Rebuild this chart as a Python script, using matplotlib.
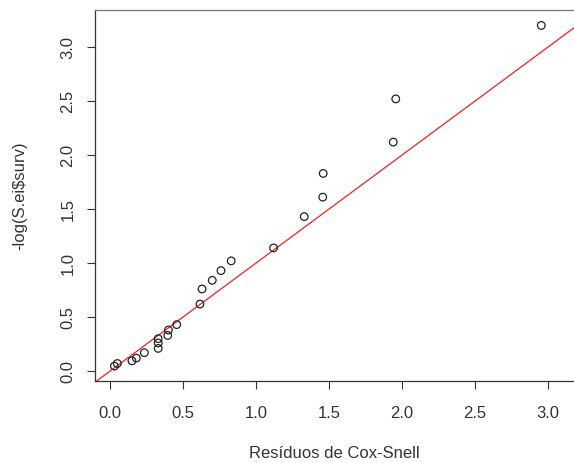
import matplotlib
matplotlib.use('Agg')
import matplotlib.pyplot as plt

plt.rcParams['font.family'] = ['Liberation Sans', 'DejaVu Sans']

# Cox-Snell residuals vs -log(S(t))
cox_snell = [0.03, 0.05, 0.15, 0.18, 0.235, 0.33, 0.33, 0.33, 0.395, 0.40, 0.457,
             0.616, 0.63, 0.70, 0.76, 0.83, 1.12, 1.33, 1.457, 1.46, 1.94, 1.957, 2.954]
neg_log_s = [0.046, 0.07, 0.095, 0.12, 0.17, 0.21, 0.26, 0.30, 0.33, 0.38, 0.43,
             0.62, 0.76, 0.84, 0.93, 1.02, 1.14, 1.43, 1.61, 1.83, 2.12, 2.52, 3.20]
ticks = [0.0, 0.5, 1.0, 1.5, 2.0, 2.5, 3.0]

fig = plt.figure(figsize=(5.74, 4.63), dpi=100)
ax = fig.add_axes([95 / 574, 1 - 381 / 463, 1 - 95 / 574, 371 / 463])

ax.scatter(cox_snell, neg_log_s, s=30, facecolors='none', edgecolors='#222222', linewidths=0.9, zorder=3)
ax.axline((0, 0), slope=1, color='#ee2222', linewidth=0.9)

ax.set_xlim(-0.103, 3.178)
ax.set_ylim(-0.092, 3.343)
ax.set_xticks(ticks)
ax.set_yticks(ticks)
ax.set_xticklabels([f'{t:.1f}' for t in ticks])
ax.set_yticklabels([f'{t:.1f}' for t in ticks], rotation=90, va='center')

ax.tick_params(axis='x', length=6, width=0.8, pad=12, labelsize=12, colors='#333333')
ax.tick_params(axis='y', length=6, width=0.8, pad=8, labelsize=12, colors='#333333')

for side in ['left', 'bottom', 'top']:
    ax.spines[side].set_color('#333333')
    ax.spines[side].set_linewidth(0.9)
ax.spines['top'].set_color('#777777')
ax.spines['right'].set_visible(False)

ax.set_xlabel('Resíduos de Cox-Snell', fontsize=12, color='#333333', labelpad=18)
ax.set_ylabel('-log(S.ei$surv)', fontsize=12, color='#333333', labelpad=24)

plt.savefig('out.png', dpi=100)
